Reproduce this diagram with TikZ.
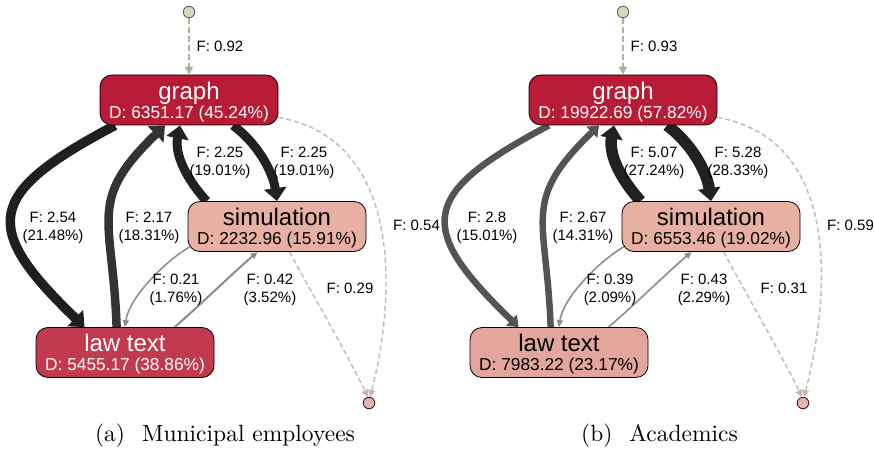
\documentclass[tikz,border=0pt]{standalone}
\usepackage{fontspec}
\setsansfont{Liberation Sans}
\newfontfamily\capfont{lmroman10-regular.otf}
\usetikzlibrary{arrows.meta,backgrounds}

\definecolor{graphred}{RGB}{184,27,54}
\definecolor{lawred}{RGB}{194,58,77}
\definecolor{simpink}{RGB}{231,176,162}
\definecolor{lawpink}{RGB}{227,166,156}
\definecolor{startgreen}{RGB}{209,217,190}
\definecolor{startline}{RGB}{165,182,150}
\definecolor{endpink}{RGB}{219,183,183}
\definecolor{endline}{RGB}{200,180,176}

\newcommand{\boxtext}[2]{\rule{0pt}{20.6pt}#1\\\fontsize{17.3pt}{19pt}\selectfont #2}

\tikzset{
  activity/.style={draw=black, line width=0.8pt, rounded corners=12pt,
    minimum width=178pt, minimum height=50pt, inner sep=0pt, align=center,
    font=\sffamily\fontsize{24pt}{19pt}\selectfont},
  endpoint/.style={circle, draw=black!65, line width=0.8pt,
    minimum size=11.5pt, inner sep=0pt},
  bigflow/.style={line width=#1, -{Triangle[length=13pt,width=22pt]}},
  midflow/.style={line width=#1, -{Triangle[length=10pt,width=15pt]}},
  thinflow/.style={line width=#1, black!45, -{Triangle[length=7pt,width=6pt]}},
  startflow/.style={line width=2.5pt, startline, dash pattern=on 6pt off 3pt,
    -{Triangle[length=8pt,width=8pt]}},
  endflow/.style={line width=1.4pt, endline, dash pattern=on 5pt off 3pt,
    -{Triangle[length=7pt,width=7pt]}},
  elabel/.style={align=center, inner sep=0pt,
    font=\sffamily\fontsize{15pt}{18pt}\selectfont},
  subcap/.style={anchor=base, inner sep=0pt,
    font=\capfont\fontsize{23.5pt}{28pt}\selectfont}
}

\begin{document}
\begin{tikzpicture}[x=1pt,y=1pt]
  \useasboundingbox (0,0) rectangle (874,450);

  % (a) municipal employees
  \begin{scope}
    \node[endpoint, fill=startgreen] (startA) at (189,438) {};
    \node[endpoint, draw=black!60!red!70!black, fill=endpink] (endA) at (369,47) {};
    \node[activity, fill=graphred, text=white] (graphA) at (189,350)
      {\boxtext{graph}{D: 6351.17 (45.24\%)}};
    \node[activity, fill=simpink] (simA) at (277,223.5)
      {\boxtext{simulation}{D: 2232.96 (15.91\%)}};
    \node[activity, fill=lawred, text=white] (lawA) at (125,97.5)
      {\boxtext{law text}{D: 5455.17 (38.86\%)}};
    \begin{pgfonlayer}{background}
      \draw[startflow] (startA) -- (graphA.north);
      \draw[bigflow=9.5pt, black!88] ([xshift=-74pt]graphA.south)
        .. controls (-14,256.5) and (-20,223.5) .. ([xshift=49pt]lawA.north west);
      \draw[bigflow=8.5pt, black!80] ([xshift=81pt]lawA.north west)
        .. controls (113,233) and (86,248.5) .. ([xshift=-24pt]graphA.south);
      \draw[bigflow=9pt, black!87] ([xshift=19pt]simA.north west)
        .. controls (186.5,271) and (174.3,295.6) .. ([xshift=-9pt]graphA.south);
      \draw[bigflow=9pt, black!87] ([xshift=44pt]graphA.south)
        .. controls (257,307) and (272.8,278.7) .. (simA.north);
      \draw[thinflow=1.5pt] ([xshift=2pt,yshift=5pt]simA.south west)
        .. controls (164,188) and (129,152) .. (lawA.north);
      \draw[thinflow=2pt] ([xshift=139pt]lawA.north west)
        .. controls (197,142) and (235,179) .. ([xshift=70pt]simA.south west);
      \draw[endflow] ([xshift=102pt]simA.south west)
        .. controls (310,160) and (345,100) .. (endA.100);
      \draw[endflow] ([yshift=8pt]graphA.south east)
        .. controls (405,310) and (395,150) .. (endA.80);
    \end{pgfonlayer}
    \node[elabel] (fA0) at (220,404) {F: 0.92};
    \node[elabel] (fA1) at (53,222) {F: 2.54\\(21.48\%)};
    \node[elabel] (fA2) at (149,222) {F: 2.17\\(18.31\%)};
    \node[elabel] (fA3) at (220,287) {F: 2.25\\(19.01\%)};
    \node[elabel] (fA4) at (304,287) {F: 2.25\\(19.01\%)};
    \node[elabel] (fA5) at (176,160) {F: 0.21\\(1.76\%)};
    \node[elabel] (fA6) at (270,160) {F: 0.42\\(3.52\%)};
    \node[elabel] (fA7) at (350,161.5) {F: 0.29};
    \node[elabel] (fA8) at (416.5,224.3) {F: 0.54};
    \node[subcap] (capA) at (225,9) {(a)\hspace{0.72em}Municipal employees};
  \end{scope}

  % (b) academics
  \begin{scope}[xshift=434pt]
    \node[endpoint, fill=startgreen] (startB) at (189,438) {};
    \node[endpoint, draw=black!60!red!70!black, fill=endpink] (endB) at (369,47) {};
    \node[activity, minimum width=188pt, fill=graphred, text=white] (graphB) at (189,350)
      {\boxtext{graph}{D: 19922.69 (57.82\%)}};
    \node[activity, fill=simpink] (simB) at (277,223.5)
      {\boxtext{simulation}{D: 6553.46 (19.02\%)}};
    \node[activity, fill=lawpink] (lawB) at (125,97.5)
      {\boxtext{law text}{D: 7983.22 (23.17\%)}};
    \begin{pgfonlayer}{background}
      \draw[startflow] (startB) -- (graphB.north);
      \draw[midflow=6.5pt, black!67] ([xshift=-74pt]graphB.south)
        .. controls (-14,256.5) and (-20,223.5) .. ([xshift=49pt]lawB.north west);
      \draw[midflow=6.5pt, black!67] ([xshift=81pt]lawB.north west)
        .. controls (113,233) and (86,248.5) .. ([xshift=-24pt]graphB.south);
      \draw[bigflow=11.5pt, black!87] ([xshift=19pt]simB.north west)
        .. controls (186.5,271) and (174.3,295.6) .. ([xshift=-9pt]graphB.south);
      \draw[bigflow=11.5pt, black!87] ([xshift=44pt]graphB.south)
        .. controls (257,307) and (272.8,278.7) .. (simB.north);
      \draw[thinflow=1.6pt] ([xshift=2pt,yshift=5pt]simB.south west)
        .. controls (164,188) and (129,152) .. (lawB.north);
      \draw[thinflow=1.6pt] ([xshift=139pt]lawB.north west)
        .. controls (197,142) and (235,179) .. ([xshift=70pt]simB.south west);
      \draw[endflow] ([xshift=102pt]simB.south west)
        .. controls (310,160) and (345,100) .. (endB.100);
      \draw[endflow] ([yshift=8pt]graphB.south east)
        .. controls (410,310) and (395,150) .. (endB.80);
    \end{pgfonlayer}
    \node[elabel] (fB0) at (220,404) {F: 0.93};
    \node[elabel] (fB1) at (53,222) {F: 2.8\\(15.01\%)};
    \node[elabel] (fB2) at (149,222) {F: 2.67\\(14.31\%)};
    \node[elabel] (fB3) at (220,287) {F: 5.07\\(27.24\%)};
    \node[elabel] (fB4) at (304,287) {F: 5.28\\(28.33\%)};
    \node[elabel] (fB5) at (176,160) {F: 0.39\\(2.09\%)};
    \node[elabel] (fB6) at (270,160) {F: 0.43\\(2.29\%)};
    \node[elabel] (fB7) at (350,161.5) {F: 0.31};
    \node[elabel] (fB8) at (416.5,224.3) {F: 0.59};
    \node[subcap] (capB) at (225.5,9) {(b)\hspace{0.72em}Academics};
  \end{scope}
\end{tikzpicture}
\end{document}
